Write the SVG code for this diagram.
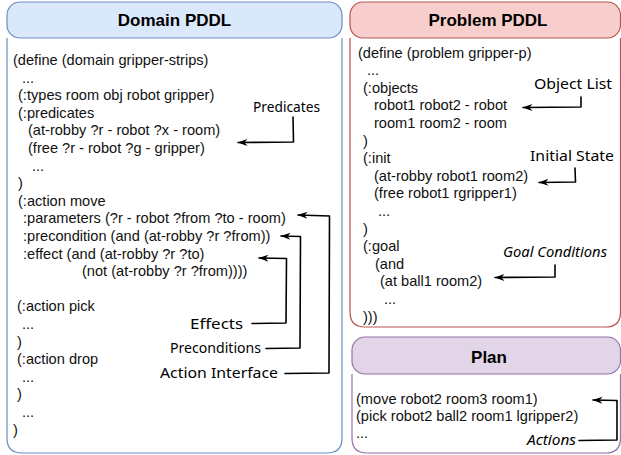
<svg xmlns="http://www.w3.org/2000/svg" width="621" height="455" viewBox="0 0 621 455">
<defs>
<style>
.code{font-family:"Liberation Sans",Arial,sans-serif;font-size:14.6px;fill:#111}
.hdr{font-family:"Liberation Sans",Arial,sans-serif;font-size:17px;font-weight:bold;fill:#000;text-anchor:middle}
.note{font-family:"Noto Sans","DejaVu Sans",sans-serif;font-size:15px;fill:#000}
.it{font-style:italic}
.conn{fill:none;stroke:#000;stroke-width:1.6;stroke-linejoin:round;stroke-linecap:round;marker-end:url(#ah)}
</style>
<marker id="ah" viewBox="0 0 10 8" refX="9.5" refY="4" markerWidth="10" markerHeight="8" markerUnits="userSpaceOnUse" orient="auto">
<path d="M0,0.5 L10,4 L0,7.5 L3,4 Z" fill="#000"/>
</marker>
</defs>
<rect width="621" height="455" fill="#fff"/>

<g id="domain">
<path d="M7,38 L7,438 Q7,453 22,453 L327,453 Q342,453 342,438 L342,38" fill="#fff" stroke="#6c8ebf" stroke-width="1.2"/>
<rect x="7" y="2" width="335" height="36" rx="13" fill="#dae8fc" stroke="#6c8ebf" stroke-width="1.2"/>
<text class="hdr" x="174.5" y="26">Domain PDDL</text>
<text class="code" x="13" y="65">(define (domain gripper-strips)</text>
<text class="code" x="22" y="82.6">...</text>
<text class="code" x="18" y="100.2">(:types room obj robot gripper)</text>
<text class="code" x="18" y="117.8">(:predicates</text>
<text class="code" x="28" y="135.4">(at-robby ?r - robot ?x - room)</text>
<text class="code" x="28" y="153">(free ?r - robot ?g - gripper)</text>
<text class="code" x="32" y="170.6">...</text>
<text class="code" x="18" y="188.2">)</text>
<text class="code" x="18" y="205.8">(:action move</text>
<text class="code" x="23" y="223.4">:parameters (?r - robot ?from ?to - room)</text>
<text class="code" x="23" y="241">:precondition (and (at-robby ?r ?from))</text>
<text class="code" x="23" y="258.6">:effect (and (at-robby ?r ?to)</text>
<text class="code" x="82" y="276.2">(not (at-robby ?r ?from))))</text>
<text class="code" x="17" y="311.4">(:action pick</text>
<text class="code" x="22" y="329">...</text>
<text class="code" x="17" y="346.6">)</text>
<text class="code" x="17" y="364.2">(:action drop</text>
<text class="code" x="22" y="381.8">...</text>
<text class="code" x="17" y="399.4">)</text>
<text class="code" x="22" y="417">...</text>
<text class="code" x="13" y="434.6">)</text>
</g>

<g id="problem">
<path d="M350,38 L350,312 Q350,327 365,327 L605.5,327 Q620.5,327 620.5,312 L620.5,38" fill="#fff" stroke="#b85450" stroke-width="1.2"/>
<rect x="350" y="2" width="270.5" height="36" rx="13" fill="#f8cecc" stroke="#b85450" stroke-width="1.2"/>
<text class="hdr" x="488" y="26">Problem PDDL</text>
<text class="code" x="358" y="57.5">(define (problem gripper-p)</text>
<text class="code" x="367" y="75.1">...</text>
<text class="code" x="363" y="92.7">(:objects</text>
<text class="code" x="374" y="110.3">robot1 robot2 - robot</text>
<text class="code" x="374" y="127.9">room1 room2 - room</text>
<text class="code" x="363" y="145.5">)</text>
<text class="code" x="363" y="163.1">(:init</text>
<text class="code" x="374" y="180.7">(at-robby robot1 room2)</text>
<text class="code" x="374" y="198.3">(free robot1 rgripper1)</text>
<text class="code" x="378" y="215.9">...</text>
<text class="code" x="363" y="233.5">)</text>
<text class="code" x="363" y="251.1">(:goal</text>
<text class="code" x="375" y="268.7">(and</text>
<text class="code" x="380" y="286.3">(at ball1 room2)</text>
<text class="code" x="384" y="303.9">...</text>
<text class="code" x="363" y="321.5">)))</text>
</g>

<g id="plan">
<path d="M352,374 L352,438 Q352,453 367,453 L605.5,453 Q620.5,453 620.5,438 L620.5,374" fill="#fff" stroke="#9673a6" stroke-width="1.2"/>
<rect x="352" y="337" width="268.5" height="37" rx="13" fill="#e1d5e7" stroke="#9673a6" stroke-width="1.2"/>
<text class="hdr" x="489" y="363">Plan</text>
<text class="code" x="356" y="404">(move robot2 room3 room1)</text>
<text class="code" x="356" y="421">(pick robot2 ball2 room1 lgripper2)</text>
<text class="code" x="356" y="438">...</text>
</g>

<g id="notes">
<text class="note" x="253" y="112" textLength="67" lengthAdjust="spacingAndGlyphs">Predicates</text>
<text class="note" x="190" y="329" textLength="53" lengthAdjust="spacingAndGlyphs">Effects</text>
<text class="note" x="170" y="353" textLength="91" lengthAdjust="spacingAndGlyphs">Preconditions</text>
<text class="note" x="160" y="378" textLength="118" lengthAdjust="spacingAndGlyphs">Action Interface</text>
<text class="note" x="534" y="89" textLength="78" lengthAdjust="spacingAndGlyphs">Object List</text>
<text class="note" x="530" y="161" textLength="84" lengthAdjust="spacingAndGlyphs">Initial State</text>
<text class="note it" x="503" y="257" textLength="104" lengthAdjust="spacingAndGlyphs">Goal Conditions</text>
<text class="note it" x="527" y="445" textLength="49" lengthAdjust="spacingAndGlyphs">Actions</text>
</g>

<g id="connectors">
<path class="conn" d="M293,117 L293.5,142 L238,142.5"/>
<path class="conn" d="M285,373.5 L329,373 L329.5,216 L298,215"/>
<path class="conn" d="M266,348.5 L300,348 L300.5,236.5 L281,236"/>
<path class="conn" d="M252,323.5 L286,323 L286.5,258.5 L259,258"/>
<path class="conn" d="M581,97 L581,107 L523,107.5"/>
<path class="conn" d="M575,168 L575.5,182 L539,182.5"/>
<path class="conn" d="M555,265 L555,277 L495,277.5"/>
<path class="conn" d="M579,440.5 L617,440 L617,400.5 L593,400"/>
</g>
</svg>
